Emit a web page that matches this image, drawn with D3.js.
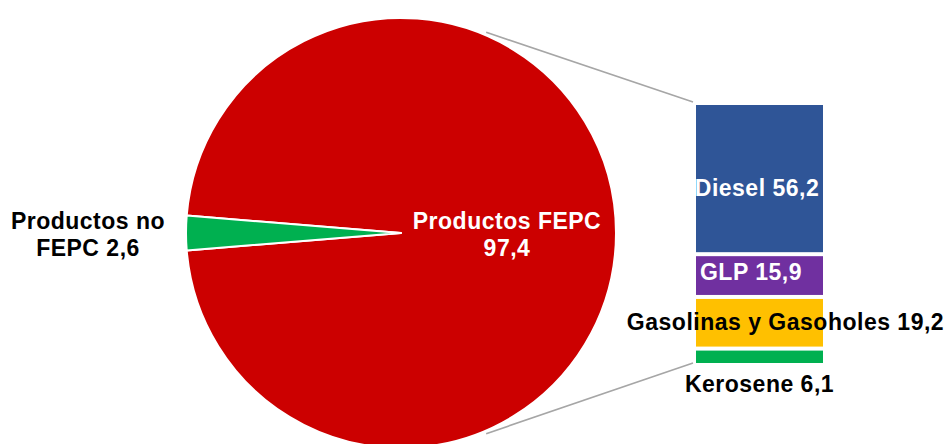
<!DOCTYPE html>
<html>
<head>
<meta charset="utf-8">
<script src="https://cdn.jsdelivr.net/npm/d3@7"></script>
<style>
  html, body { margin: 0; padding: 0; background: #fff; }
  svg { display: block; }
  text { font-family: "Liberation Sans", Arial, sans-serif; font-weight: bold; font-size: 23px; letter-spacing: 0.5px; }
</style>
</head>
<body>
<svg id="chart" width="949" height="444"></svg>
<script>
// Pie: share of FEPC vs non-FEPC products (%)
const pieNames = ["Productos FEPC", "Productos no FEPC"];
const pieValues = [97.4, 2.6];
const pieColors = ["#CC0000", "#00B050"];

// Breakdown of FEPC products, stacked from top to bottom
const barNames = ["Diesel", "GLP", "Gasolinas y Gasoholes", "Kerosene"];
const barValues = [56.2, 15.9, 19.2, 6.1];
const barColors = ["#2F5597", "#7030A0", "#FFC000", "#00B050"];

const fmt = v => d3.format(".1f")(v).replace(".", ",");

const svg = d3.select("#chart");

// ---- pie geometry
const cx = 401, cy = 233, R = 215;
const gAngle = pieValues[1] / d3.sum(pieValues) * 2 * Math.PI;
const pie = d3.pie().sort(null).value(d => d)
  .startAngle(-Math.PI / 2 + gAngle / 2)
  .endAngle(-Math.PI / 2 + gAngle / 2 + 2 * Math.PI);
const arcs = pie(pieValues);
const arc = d3.arc().innerRadius(0).outerRadius(R);

// ---- bar geometry
const barX0 = 696, barX1 = 823;
const total = d3.sum(barValues);
const y = d3.scaleLinear().domain([0, total]).range([103, 365]);
const cum = d3.cumsum(barValues);
const segs = barValues.map((v, i) => ({ name: barNames[i], v, top: cum[i] - v, bot: cum[i], color: barColors[i] }));

// connector lines from the pie rim to the bar corners
const connA = 23 * Math.PI / 180;
const rimR = R + 3;
const conn = [
  { x1: cx + rimR * Math.sin(connA), y1: cy - rimR * Math.cos(connA), x2: barX0 - 3, y2: y(0) - 1 },
  { x1: cx + rimR * Math.sin(connA), y1: cy + rimR * Math.cos(connA), x2: barX0 - 3, y2: y(total) - 2 }
];
svg.append("g").selectAll("line").data(conn).join("line")
  .attr("x1", d => d.x1).attr("y1", d => d.y1)
  .attr("x2", d => d.x2).attr("y2", d => d.y2)
  .attr("stroke", "#A6A6A6").attr("stroke-width", 1.6);

// pie slices
svg.append("g").attr("transform", `translate(${cx},${cy})`)
  .selectAll("path").data(arcs).join("path")
  .attr("d", arc)
  .attr("fill", (d, i) => pieColors[i])
  .attr("stroke", "#fff").attr("stroke-width", 2).attr("stroke-linejoin", "round");

// stacked bar segments, separated by thin white gaps
svg.append("g").selectAll("rect").data(segs).join("rect")
  .attr("x", barX0)
  .attr("width", barX1 - barX0)
  .attr("y", d => y(d.top) + 2)
  .attr("height", d => y(d.bot) - y(d.top) - 4)
  .attr("fill", d => d.color);

// pie labels
const pieLbl = [
  { lines: ["Productos FEPC", fmt(pieValues[0])], x: 507, y: 229, fill: "#fff" },
  { lines: ["Productos no", "FEPC " + fmt(pieValues[1])], x: 88, y: 229, fill: "#000" }
];
pieLbl.forEach(l => {
  const t = svg.append("text").attr("text-anchor", "middle").attr("fill", l.fill);
  l.lines.forEach((s, k) => t.append("tspan").attr("x", l.x).attr("y", l.y + k * 26.5).text(s));
});

// bar labels: offsets from the centre of each segment
const lblDx = [-2.5, -8.5, 26, 0];
const lblDy = [17.5, 4.5, 7, 0];
const lblFill = ["#fff", "#fff", "#000", "#000"];
const barMid = (barX0 + barX1) / 2;
svg.append("g").selectAll("text").data(segs).join("text")
  .attr("text-anchor", "middle")
  .attr("x", (d, i) => barMid + lblDx[i])
  .attr("y", (d, i) => i === 3 ? y(total) + 27 : (y(d.top) + y(d.bot)) / 2 + lblDy[i])
  .attr("fill", (d, i) => lblFill[i])
  .text(d => d.name + " " + fmt(d.v));
</script>
</body>
</html>
